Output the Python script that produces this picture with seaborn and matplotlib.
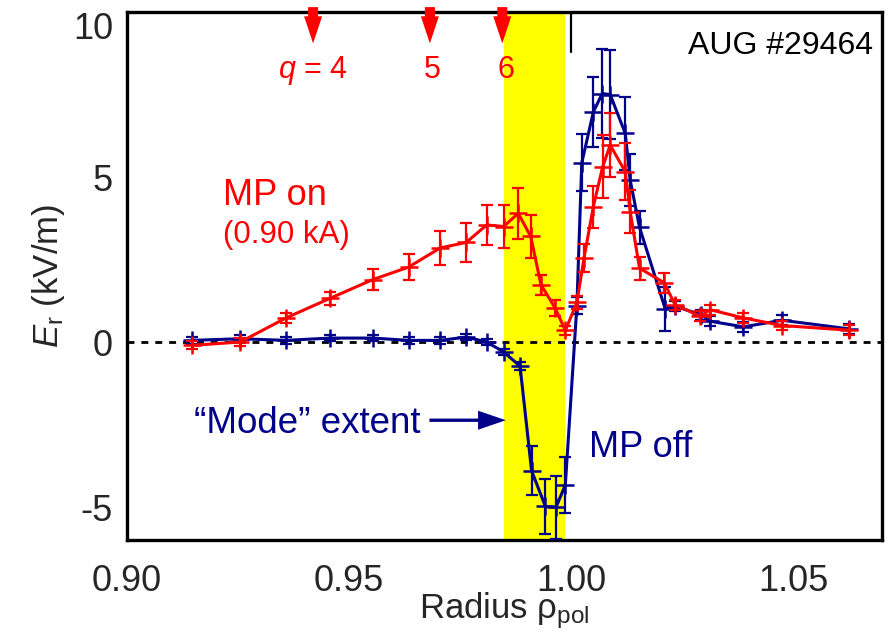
import numpy as np
import pandas as pd
import matplotlib
matplotlib.use("Agg")
import matplotlib.pyplot as plt
from matplotlib.ticker import MultipleLocator, FuncFormatter
import seaborn as sns

# Radial electric field profiles, AUG #29464
rho_on = [0.9146, 0.9255, 0.9358, 0.9458, 0.9553, 0.9634, 0.9705, 0.9764, 0.9810,
          0.9848, 0.9881, 0.9909, 0.9932, 0.9964, 0.9987, 1.0013, 1.0029, 1.0050,
          1.0071, 1.0088, 1.0122, 1.0133, 1.0154, 1.0210, 1.0234, 1.0291, 1.0313,
          1.0388, 1.0475, 1.0625]
er_on = [-0.10, 0.00, 0.73, 1.33, 1.89, 2.27, 2.85, 3.02, 3.55,
         3.50, 3.90, 3.20, 1.74, 1.03, 0.35, 1.20, 2.54, 4.10,
         5.31, 5.97, 5.16, 3.95, 2.24, 1.79, 1.13, 0.78, 0.98,
         0.73, 0.50, 0.36]
err_on = [0.12, 0.12, 0.15, 0.20, 0.32, 0.40, 0.52, 0.58, 0.60,
          0.65, 0.78, 0.64, 0.30, 0.25, 0.15, 0.20, 0.43, 0.63,
          0.96, 0.98, 0.86, 0.65, 0.35, 0.30, 0.15, 0.15, 0.15,
          0.15, 0.15, 0.15]

rho_off = [0.9146, 0.9255, 0.9358, 0.9458, 0.9553, 0.9634, 0.9705, 0.9764, 0.9810,
           0.9848, 0.9885, 0.9911, 0.9942, 0.9966, 0.9987, 1.0013, 1.0024, 1.0050,
           1.0070, 1.0088, 1.0122, 1.0133, 1.0154, 1.0212, 1.0234, 1.0293, 1.0313,
           1.0388, 1.0475, 1.0625]
er_off = [0.05, 0.10, 0.05, 0.12, 0.12, 0.05, 0.05, 0.15, 0.00,
          -0.30, -0.73, -3.90, -4.98, -5.01, -4.33, 1.10, 5.43, 6.97,
          7.53, 7.50, 6.32, 4.91, 3.48, 1.00, 1.08, 0.83, 0.63,
          0.46, 0.66, 0.40]
err_off = [0.10, 0.10, 0.10, 0.10, 0.10, 0.10, 0.10, 0.10, 0.10,
           0.10, 0.12, 0.75, 0.83, 0.95, 0.85, 0.25, 0.86, 1.07,
           1.35, 1.35, 1.10, 0.80, 0.50, 0.68, 0.15, 0.15, 0.15,
           0.15, 0.15, 0.15]

# Rational surfaces q = 4, 5, 6 and the mode region
q_rho = [0.9419, 0.9682, 0.9845]
q_labels = ["$q$ = 4", "5", "6"]
mode_band = (0.9849, 0.9986)

RED = "#ff0000"
BLUE = "#000088"

sns.set_theme(style="white")
plt.rcParams["font.family"] = ["Liberation Sans", "DejaVu Sans"]
plt.rcParams["mathtext.fontset"] = "custom"
plt.rcParams["mathtext.rm"] = "Liberation Sans"
plt.rcParams["mathtext.it"] = "Liberation Sans:italic"
plt.rcParams["axes.unicode_minus"] = False

fig = plt.figure(figsize=(8.9, 6.35), dpi=100)
ax = fig.add_axes([0.1427, 0.1496, 0.991 - 0.1427, 0.981 - 0.1496])

ax.axvspan(*mode_band, color="#ffff00", lw=0, zorder=0)
ax.axhline(0, color="black", lw=2.0, ls=(0, (2.5, 2.5)), zorder=1)

df_on = pd.DataFrame({"rho": rho_on, "Er": er_on, "err": err_on})
df_off = pd.DataFrame({"rho": rho_off, "Er": er_off, "err": err_off})

for df, col, z in [(df_off, BLUE, 3), (df_on, RED, 4)]:
    ax.errorbar(df["rho"], df["Er"], yerr=df["err"], fmt="none", ecolor=col,
                elinewidth=1.6, capsize=4.5, capthick=1.6, zorder=z)
    sns.lineplot(data=df, x="rho", y="Er", ax=ax, color=col, lw=2.2,
                 marker="+", markersize=13, markeredgewidth=1.8,
                 markeredgecolor=col, sort=False, estimator=None, zorder=z)

# separatrix marker
ax.plot([1.0, 1.0], [8.78, 10.0], color="black", lw=1.6, zorder=5)

ax.set_xlim(0.90, 1.07)
ax.set_ylim(-6, 10)
ax.xaxis.set_major_locator(MultipleLocator(0.05))
ax.xaxis.set_minor_locator(MultipleLocator(0.01))
ax.yaxis.set_major_locator(MultipleLocator(5))
ax.yaxis.set_minor_locator(MultipleLocator(1))
ax.xaxis.set_major_formatter(FuncFormatter(lambda v, p: f"{v:.2f}"))
ax.yaxis.set_major_formatter(FuncFormatter(lambda v, p: f"{v:.0f}".replace("\u2212", "-")))

for s in ax.spines.values():
    s.set_color("black")
    s.set_linewidth(2.4)
ax.tick_params(which="both", direction="in", color="black", width=1.6,
               top=False, right=False, labelsize=26)
ax.tick_params(which="major", length=17)
ax.tick_params(which="minor", length=8)
ax.tick_params(axis="x", which="both", pad=17)
ax.tick_params(axis="y", which="both", pad=10)
ax.grid(False)

ax.set_xlabel("Radius \u03c1$_\\mathrm{pol}$", fontsize=25, labelpad=-6)
ax.set_ylabel(r"$E_\mathrm{r}$ (kV/m)", fontsize=25, labelpad=4)

# keep the topmost y tick label inside the figure
fig.canvas.draw()
for t in ax.yaxis.get_major_ticks():
    if abs(t.get_loc() - 10) < 1e-9:
        t.label1.set_verticalalignment("top")

# q-surface arrows and labels
q_arrow = "simple,head_length=1.95,head_width=1.3,tail_width=0.72"
for r in q_rho:
    ax.annotate("", xy=(r, 9.05), xytext=(r, 10.15),
                arrowprops=dict(arrowstyle=q_arrow, fc=RED, ec="none", lw=0,
                                mutation_scale=10, shrinkA=0, shrinkB=0),
                annotation_clip=False, zorder=6)
ax.text(q_rho[0], 8.23, q_labels[0], color=RED, fontsize=22, ha="center", va="center")
ax.text(q_rho[1] + 0.0005, 8.23, q_labels[1], color=RED, fontsize=22, ha="center", va="center")
ax.text(q_rho[2] + 0.0008, 8.23, q_labels[2], color=RED, fontsize=22, ha="center", va="center")

ax.text(1.068, 8.96, "AUG #29464", color="black", fontsize=23, ha="right", va="center")
ax.text(0.9216, 4.15, "MP on", color=RED, fontsize=26, ha="left", va="baseline")
ax.text(0.9216, 3.0, "(0.90 kA)", color=RED, fontsize=22.5, ha="left", va="baseline")
ax.text(0.9151, -2.75, "\u201cMode\u201d extent", color=BLUE, fontsize=26.5, ha="left", va="baseline")
ax.annotate("", xy=(0.9853, -2.37), xytext=(0.9681, -2.37),
            arrowprops=dict(arrowstyle="simple,head_length=2.0,head_width=1.37,tail_width=0.24",
                            fc=BLUE, ec="none", lw=0, mutation_scale=10,
                            shrinkA=0, shrinkB=0), zorder=6)
ax.text(1.0040, -3.49, "MP off", color=BLUE, fontsize=26, ha="left", va="baseline")

fig.savefig("out.png", dpi=100)
